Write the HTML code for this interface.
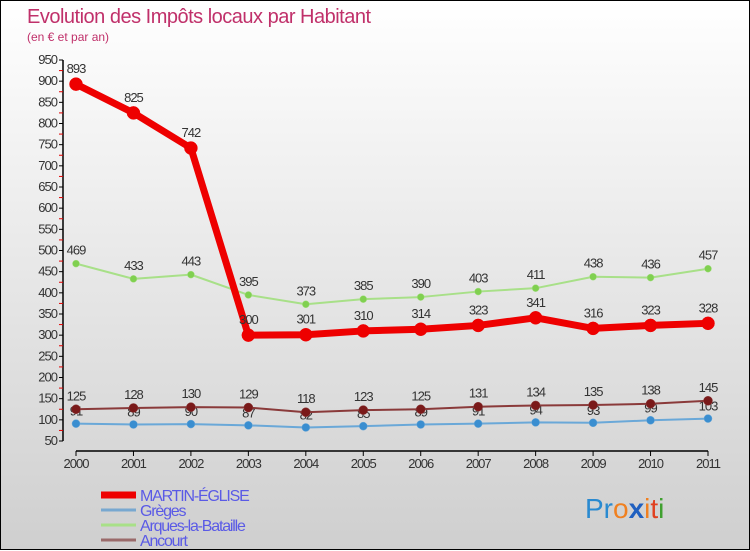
<!DOCTYPE html>
<html><head><meta charset="utf-8"><style>
html,body{margin:0;padding:0}
body{width:750px;height:550px;overflow:hidden;font-family:"Liberation Sans",sans-serif}
#wrap{position:relative;width:748px;height:548px;border:1px solid #000;background:linear-gradient(#ffffff,#cfcfcf)}
svg{position:absolute;left:0;top:0}
</style></head><body>
<div id="wrap">
<svg id="chart" width="750" height="550">
<text x="26" y="22" font-size="20" fill="#c0306a" letter-spacing="-0.5">Evolution des Impôts locaux par Habitant</text>
<text x="26" y="40" font-size="12" fill="#c0306a">(en € et par an)</text>
<text x="584" y="517" font-size="28"><tspan fill="#2a8ad0">Pr</tspan><tspan fill="#f08020">o</tspan><tspan fill="#2060c0" font-weight="bold">x</tspan><tspan fill="#f08020">i</tspan><tspan fill="#e04020">t</tspan><tspan fill="#40a030">i</tspan></text>
</svg>
</div>
<script>
const years=["2000","2001","2002","2003","2004","2005","2006","2007","2008","2009","2010","2011"];
const martin=[893,825,742,300,301,310,314,323,341,316,323,328];
const greges=[91,89,90,87,82,85,89,91,94,93,99,103];
const arques=[469,433,443,395,373,385,390,403,411,438,436,457];
const ancourt=[125,128,130,129,118,123,125,131,134,135,138,145];
const yTicks=[50,100,150,200,250,300,350,400,450,500,550,600,650,700,750,800,850,900,950];
const svg=document.getElementById('chart');
const NS='http://www.w3.org/2000/svg';
const x=i=>75+i*(707-75)/11;
const y=v=>440-(v-50)*(381/900);
function mk(t,a,p){const e=document.createElementNS(NS,t);for(const k in a)e.setAttribute(k,a[k]);(p||svg).appendChild(e);return e;}
let ax=mk('line',{x1:62,y1:y(950),x2:62,y2:y(50),stroke:'#000','stroke-width':1.5});


yTicks.forEach(v=>{
  mk('line',{x1:58,y1:y(v),x2:62,y2:y(v),stroke:'#000'});
  if(v<950) mk('line',{x1:58,y1:y(v+25),x2:62,y2:y(v+25),stroke:'#e00000'});
  const t=mk('text',{x:56,y:y(v)+4,'font-size':13,fill:'#333','text-anchor':'end','letter-spacing':'-1'});
  t.textContent=v;
  
  
});
let xa=mk('line',{x1:x(0),y1:450,x2:x(11),y2:450,stroke:'#000','stroke-width':1.5});


years.forEach((yr,i)=>{
  mk('line',{x1:x(i),y1:450,x2:x(i),y2:455,stroke:'#000'});
  const t=mk('text',{x:x(i),y:467,'font-size':13,fill:'#333','text-anchor':'middle','letter-spacing':'-1'});
  t.textContent=yr;
  
  
});
function series(vals,color,dot,w,r,name,labelDy){
  const g=mk('g',{});
  
  
  mk('polyline',{points:vals.map((v,i)=>x(i)+','+y(v)).join(' '),fill:'none',stroke:color,'stroke-width':w,'stroke-linejoin':'round'},g);
  vals.forEach((v,i)=>{
    const c=mk('circle',{cx:x(i),cy:y(v),r:r,fill:dot,stroke:color,'stroke-width':0.5},g);
    
    
    const t=mk('text',{x:x(i),y:y(v)+labelDy,'font-size':13,fill:'#333','text-anchor':'middle','letter-spacing':'-1'},g);
    t.textContent=v;
    
    
  });
}
series(greges,'#6aa8d8','#3a8ed0',2,4,'greges',-8);
series(ancourt,'#8a3a3a','#7a1a1a',2,4.5,'ancourt',-9);
series(arques,'#a8e088','#80d050',2,3.5,'arques',-9);
series(martin,'#ee0000','#ee0000',7,6.5,'martin-eglise',-11);
const leg=[['MARTIN-ÉGLISE','#ee0000',7],['Grèges','#78a8d0',3],['Arques-la-Bataille','#a8e088',3],['Ancourt','#9a6a6a',3]];
leg.forEach((l,i)=>{
  const ly=494+i*15;
  const g=mk('g',{});
  
  
  mk('line',{x1:100,y1:ly,x2:135,y2:ly,stroke:l[1],'stroke-width':l[2]},g);
  const t=mk('text',{x:139,y:ly+6,'font-size':16,fill:'#5a5ae6','letter-spacing':'-1.2'},g);
  t.textContent=l[0];
});
</script>
</body></html>
